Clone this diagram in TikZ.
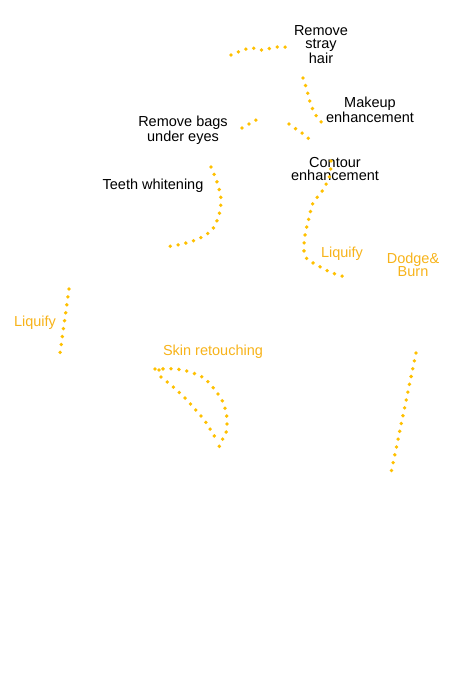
\documentclass[tikz,border=0pt]{standalone}
\usepackage{fontspec}
\setmainfont{Liberation Sans}
\definecolor{ink}{HTML}{000000}
\definecolor{marker}{HTML}{FFC000}
\definecolor{tooltext}{HTML}{F7B31A}
\tikzset{
  note/.style={
    font=\fontsize{14.5}{13}\selectfont,
    text=ink,
    align=center,
    inner sep=0pt
  },
  tool/.style={
    note,
    text=tooltext
  },
  dotline/.style={
    draw=marker,
    line width=3.8pt,
    line cap=round,
    dash pattern=on 0pt off 8pt
  }
}

\begin{document}
\begin{tikzpicture}[x=1pt,y=-1pt]
  \useasboundingbox (0,0) rectangle (459,687);

  % Retouching notes
  \node[note] (hair) at (321,44.5) {Remove\\stray\\hair};
  \node[note] (makeup) at (370,110) {Makeup\\enhancement};
  \node[note] (bags) at (183,130) {Remove bags\\under eyes};
  \node[note] (contour) at (335,169) {Contour\\enhancement};
  \node[note] (teeth) at (153,185.5) {Teeth whitening};

  % Tool names
  \node[tool] (liquifyright) at (342,253.5) {Liquify};
  \node[tool] (dodge) at (413,265) {Dodge\&\\Burn};
  \node[tool] (liquifyleft) at (35,322.5) {Liquify};
  \node[tool] (skin) at (213,351.5) {Skin retouching};

  % Dotted strokes
  \draw[dotline] plot[smooth] coordinates {
    (231,55) (246,49) (253,48) (261,50) (277,47) (285,47) (289,51)};
  \draw[dotline] plot[smooth] coordinates {
    (303,78) (306,87) (308,94) (310,102) (313,110) (317,117) (323,124)};
  \draw[dotline] plot[smooth] coordinates {(242,128) (249,124) (256,120)};
  \draw[dotline] plot[smooth] coordinates {(289,124) (296,129) (302,133) (309,139)};
  \draw[dotline] plot[smooth] coordinates {
    (211,167) (217,182) (221,199) (219,215) (212,230) (198,239)
    (182,244) (166,247)};
  \draw[dotline] plot[smooth] coordinates {
    (331,161) (330,175) (323,190) (313,203) (309,218) (305,235)
    (304,251) (307,259) (315,264) (330,272) (345,277)};
  \draw[dotline] (69,289) -- (60,353);
  \draw[dotline] plot[smooth] coordinates {
    (155,369) (176,369) (190,372) (204,378) (215,390) (223,402)
    (227,418) (226,433) (222,440) (219,447)};
  \draw[dotline] plot[smooth] coordinates {
    (159,370) (159,375) (171,385) (183,396) (194,408) (205,421)
    (213,434) (218,441)};
  \draw[dotline] (416,353) -- (391,473);
\end{tikzpicture}
\end{document}
